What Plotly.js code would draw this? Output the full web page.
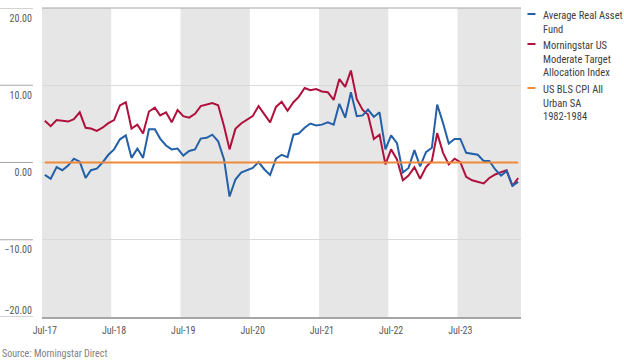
<!DOCTYPE html>
<html>
<head>
<meta charset="utf-8">
<script src="https://cdn.plot.ly/plotly-3.0.1.min.js"></script>
<style>
  html, body { margin: 0; padding: 0; background: #fff; }
  #chart { width: 624px; height: 362px; }
</style>
</head>
<body>
<div id="chart"></div>
<script>
// ---- data ----
const months = [
  "2017-07-01","2017-08-01","2017-09-01","2017-10-01","2017-11-01","2017-12-01",
  "2018-01-01","2018-02-01","2018-03-01","2018-04-01","2018-05-01","2018-06-01",
  "2018-07-01","2018-08-01","2018-09-01","2018-10-01","2018-11-01","2018-12-01",
  "2019-01-01","2019-02-01","2019-03-01","2019-04-01","2019-05-01","2019-06-01",
  "2019-07-01","2019-08-01","2019-09-01","2019-10-01","2019-11-01","2019-12-01",
  "2020-01-01","2020-02-01","2020-03-01","2020-04-01","2020-05-01","2020-06-01",
  "2020-07-01","2020-08-01","2020-09-01","2020-10-01","2020-11-01","2020-12-01",
  "2021-01-01","2021-02-01","2021-03-01","2021-04-01","2021-05-01","2021-06-01",
  "2021-07-01","2021-08-01","2021-09-01","2021-10-01","2021-11-01","2021-12-01",
  "2022-01-01","2022-02-01","2022-03-01","2022-04-01","2022-05-01","2022-06-01",
  "2022-07-01","2022-08-01","2022-09-01","2022-10-01","2022-11-01","2022-12-01",
  "2023-01-01","2023-02-01","2023-03-01","2023-04-01","2023-05-01","2023-06-01",
  "2023-07-01","2023-08-01","2023-09-01","2023-10-01","2023-11-01","2023-12-01",
  "2024-01-01","2024-02-01","2024-03-01","2024-04-01","2024-05-01"
];

const realAssetFund = [
  -1.6,-2.1,-0.6,-1.0,-0.4,0.5, 0.1,-2.0,-1.0,-0.8,0.0,1.0,
  1.7,3.0,3.5,0.6,1.8,0.6, 4.3,4.3,3.1,2.2,1.7,1.8,
  0.9,1.5,1.7,3.1,3.2,3.6, 2.75,0.4,-4.4,-2.2,-1.3,-1.0,
  -0.7,0.05,-0.9,-1.6,0.5,1.0, 0.7,3.6,3.75,4.5,5.05,4.8,
  4.9,5.2,4.9,7.6,5.8,9.1, 6.0,6.1,6.85,5.9,6.5,1.7,
  3.5,2.5,-1.3,-0.7,1.6,-0.5, 1.35,1.9,7.5,5.1,2.45,3.05,
  3.05,1.25,1.15,1.0,0.2,0.2, -0.9,-1.7,-1.1,-3.0,-2.5
];

const moderateTargetIndex = [
  5.4,4.7,5.5,5.4,5.3,5.6, 6.5,4.5,4.4,4.1,4.5,5.1,
  5.5,7.4,7.8,4.4,4.9,3.75, 6.6,7.1,6.1,6.5,5.2,6.8,
  6.0,5.8,6.3,7.3,7.5,7.7, 7.4,4.7,1.7,4.35,5.05,5.5,
  6.0,7.3,6.3,5.2,7.2,7.85, 6.7,7.8,8.5,9.65,9.35,9.5,
  9.2,9.1,8.1,10.8,9.8,11.9, 8.2,6.8,6.2,3.05,3.6,-0.25,
  1.7,0.4,-2.3,-1.7,-0.6,-2.1, -0.6,0.2,3.8,1.25,-0.25,0.5,
  0.05,-1.85,-2.3,-2.5,-2.7,-2.0, -1.55,-1.25,-1.0,-3.05,-2.0
];

const cpiUrban = [
  0,0,0,0,0,0, 0,0,0,0,0,0,
  0,0,0,0,0,0, 0,0,0,0,0,0,
  0,0,0,0,0,0, 0,0,0,0,0,0,
  0,0,0,0,0,0, 0,0,0,0,0,0,
  0,0,0,0,0,0, 0,0,0,0,0,0,
  0,0,0,0,0,0, 0,0,0,0,0,0,
  0,0,0,0,0,0, 0,0,0,0,0
];

const seriesNames = [
  "Average Real Asset<br>Fund",
  "Morningstar US<br>Moderate Target<br>Allocation Index",
  "US BLS CPI All<br>Urban SA<br>1982-1984"
];

const xTickVals = ["2017-07-01","2018-07-01","2019-07-01","2020-07-01","2021-07-01","2022-07-01","2023-07-01"];
const xTickText = ["Jul-17","Jul-18","Jul-19","Jul-20","Jul-21","Jul-22","Jul-23"];
const yTickVals = [20, 10, 0, -10];
const yTickText = ["20.00","10.00","0.00","\u221210.00"];
const yBottomVal = [-20];
const yBottomText = ["\u221220.00"];

// shaded year bands (alternate years)
const bandStarts = ["2017-06-16","2019-06-16","2021-06-16","2023-06-16"];
const bandEnds   = ["2018-06-16","2020-06-16","2022-06-16","2024-05-16"];

// ---- styling ----
const colors = ["#2360a8", "#b0103c", "#ef8a3a"];
const FONT = "'Liberation Sans Narrow', 'Roboto Condensed', Roboto, Arial, sans-serif";
const xRange = ["2017-06-16", "2024-05-16"];
const yRange = [-20, 20];

const traces = [
  {x: months, y: cpiUrban, name: seriesNames[2], type: "scatter", mode: "lines", yaxis: "y2",
   line: {color: colors[2], width: 2}},
  {x: months, y: moderateTargetIndex, name: seriesNames[1], type: "scatter", mode: "lines",
   line: {color: colors[1], width: 2}},
  {x: months, y: realAssetFund, name: seriesNames[0], type: "scatter", mode: "lines",
   line: {color: colors[0], width: 2}}
];

const shapes = [];
for (let i = 0; i < bandStarts.length; i++) {
  shapes.push({type: "rect", xref: "x", yref: "paper", x0: bandStarts[i], x1: bandEnds[i],
    y0: 0, y1: 1, fillcolor: "#e6e6e6", line: {width: 0}, layer: "between"});
}
// tick segments to the left of the plot
yTickVals.concat(yBottomVal).forEach(v => {
  shapes.push({type: "line", xref: "paper", yref: "y", x0: -0.088, x1: -0.019, y0: v, y1: v,
    line: {color: "#a6a6a6", width: 1}});
});
// top border
shapes.push({type: "line", xref: "paper", yref: "paper", x0: 0, x1: 1, y0: 1, y1: 1,
  line: {color: "#a6a6a6", width: 1}});

// manual legend
const annotations = [];
const legendTops = [7, 37, 81];  // px from top
const H = 309, T = 8;
for (let i = 0; i < 3; i++) {
  const yc = 1 - (legendTops[i] + 7 - T) / H;
  shapes.push({type: "line", xref: "paper", yref: "paper", x0: 1.0135, x1: 1.0302,
    y0: yc, y1: yc, line: {color: colors[i], width: 2}});
  annotations.push({xref: "paper", yref: "paper", x: 1.0418, y: 1 - (legendTops[i] - T) / H,
    xanchor: "left", yanchor: "top", align: "left", showarrow: false,
    text: seriesNames[i], font: {family: FONT, size: 10.5, color: "#404040"}});
}
annotations.push({xref: "paper", yref: "paper", x: -0.0877, y: -0.093, xanchor: "left", yanchor: "top",
  showarrow: false, text: "Source: Morningstar Direct",
  font: {family: FONT, size: 10, color: "#7f7f7f"}});

const yTickFont = {family: FONT, size: 10, color: "#595959"};
const layout = {
  width: 624, height: 362,
  margin: {l: 42, r: 103, t: 8, b: 45},
  paper_bgcolor: "#ffffff", plot_bgcolor: "#ffffff",
  showlegend: false,
  font: {family: FONT, size: 10, color: "#595959"},
  xaxis: {
    type: "date", range: xRange, tickvals: xTickVals, ticktext: xTickText,
    showgrid: false, zeroline: false, showline: true, linecolor: "#a6a6a6", linewidth: 2,
    ticks: "", tickfont: {family: FONT, size: 10, color: "#595959"}, ticklabelstandoff: 3
  },
  yaxis: {
    range: yRange, tickvals: yTickVals, ticktext: yTickText,
    showgrid: true, gridcolor: "#d9d9d9", gridwidth: 1, zeroline: false, showline: false,
    ticks: "", ticklabelposition: "outside bottom", ticklabelstandoff: 9, ticklabelshift: 3,
    tickfont: yTickFont
  },
  yaxis2: {
    overlaying: "y", side: "left", range: yRange, tickvals: yBottomVal, ticktext: yBottomText,
    showgrid: false, zeroline: false, showline: false,
    ticks: "", ticklabelposition: "outside top", ticklabelstandoff: 9,
    tickfont: yTickFont
  },
  shapes: shapes,
  annotations: annotations
};

Plotly.newPlot("chart", traces, layout, {displayModeBar: false, staticPlot: true});
</script>
</body>
</html>
